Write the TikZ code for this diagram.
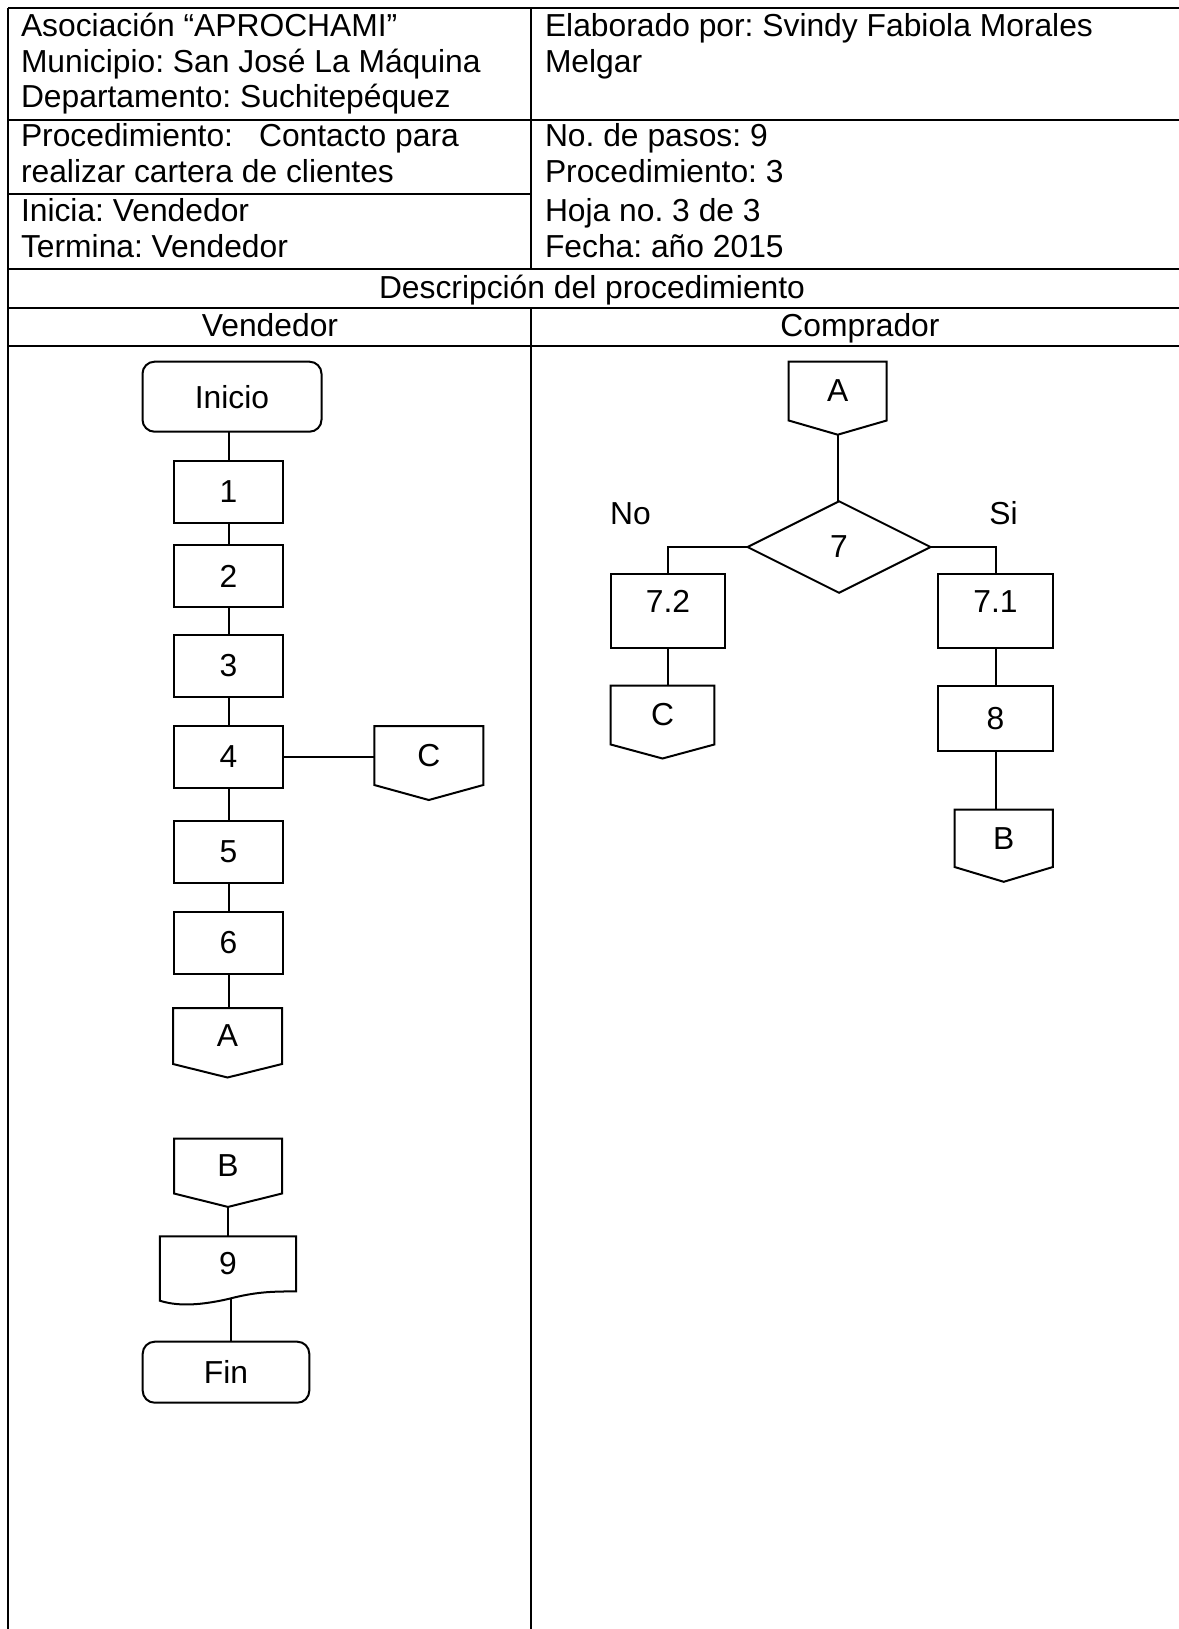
\documentclass[tikz,border=0pt]{standalone}
\usepackage{fontspec}
\setmainfont{Liberation Sans}
\usetikzlibrary{shapes.geometric,calc}
\frenchspacing

% outline of an off-page connector around a (borderless) node, with a named tip
\newcommand\offpageoutline[2]{%
  \draw[flow] (#1.north west) -- (#1.north east) -- (#1.south east)
    -- ([yshift=-#2]#1.south) -- (#1.south west) -- cycle;
  \coordinate (#1-tip) at ([yshift=-#2]#1.south);}

\begin{document}
\begin{tikzpicture}[x=1pt,y=-1pt,
  every node/.style={font=\fontsize{31.8pt}{36.5pt}\selectfont, inner sep=0pt, outer sep=0pt},
  grid/.style={line width=2.5pt},
  flow/.style={line width=2pt},
  txt/.style={anchor=base west},
  ctxt/.style={anchor=base},
  proc/.style={draw, line width=2pt, minimum width=109pt, minimum height=62pt},
  term/.style={draw, line width=2pt, rounded corners=12pt},
  conn/.style={minimum width=#1},
  decision/.style={draw, line width=2pt, shape=diamond, aspect=2,
    minimum width=183pt, minimum height=91.5pt},
  upper/.style={text height=22.5pt, text depth=20pt}
]
\useasboundingbox (0,0) rectangle (1178,1629);

% ---------- table grid ----------
\draw[grid] (8,8) -- (1185,8);
\draw[grid] (8,120) -- (1185,120);
\draw[grid] (8,194) -- (531,194);
\draw[grid] (8,269) -- (1185,269);
\draw[grid] (8,308) -- (1185,308);
\draw[grid] (8,346) -- (1185,346);
\draw[grid] (8,8) -- (8,1640);
\draw[grid] (531,8) -- (531,269);
\draw[grid] (531,308) -- (531,1640);

% ---------- header texts ----------
\node[txt] (h1) at (21,37) {Asociación “APROCHAMI”};
\node[txt] (h2) at (21,73) {Municipio: San José La Máquina};
\node[txt] (h3) at (21,108) {Departamento: Suchitepéquez};
\node[txt] (h4) at (21,146.7) {Procedimiento:\hspace{26pt}Contacto para};
\node[txt] (h5) at (21,183) {realizar cartera de clientes};
\node[txt] (h6) at (21,221.7) {Inicia: Vendedor};
\node[txt] (h7) at (21,258) {Termina: Vendedor};

\node[txt] (r1) at (545,37) {Elaborado por: Svindy Fabiola Morales};
\node[txt] (r2) at (545,73) {Melgar};
\node[txt] (r3) at (545,146.7) {No. de pasos: 9};
\node[txt] (r4) at (545,183) {Procedimiento: 3};
\node[txt] (r5) at (545,221.7) {Hoja no. 3 de 3};
\node[txt] (r6) at (545,258) {Fecha: año 2015};

\node[ctxt] (desc) at (592,298) {Descripción del procedimiento};
\node[ctxt] (lane1) at (270,336.7) {Vendedor};
\node[ctxt] (lane2) at (860,336.7) {Comprador};

% ---------- Vendedor lane ----------
\node[term, minimum width=179pt, minimum height=70pt] (ini) at (232,396.7) {Inicio};
\node[proc] (p1) at (228.5,492) {1};
\node[proc] (p2) at (228.5,576) {2};
\node[proc] (p3) at (228.5,666) {3};
\node[proc] (p4) at (228.5,756.5) {4};
\node[proc] (p5) at (228.5,852) {5};
\node[proc] (p6) at (228.5,943) {6};

\node[conn=109pt, minimum height=59pt] (C1) at (428.8,755.5) {C};
\offpageoutline{C1}{15pt}
\node[conn=109pt, minimum height=56pt] (A1) at (227.5,1036) {A};
\offpageoutline{A1}{13.5pt}
\node[conn=108pt, minimum height=55pt] (B1) at (228,1166) {B};
\offpageoutline{B1}{13.4pt}

\node[minimum width=136.3pt, minimum height=55pt] (d9) at (228,1263.9) {9};
\draw[flow] (d9.north west) -- (d9.north east) -- (d9.south east)
  .. controls ($(d9.south west)+(110.3,0)$) and ($(d9.south west)+(95.3,0.6)$) .. ($(d9.south west)+(68.3,7.6)$)
  .. controls ($(d9.south west)+(35.3,15.1)$) and ($(d9.south west)+(15.3,14.1)$) .. ($(d9.south west)+(0,9.3)$)
  -- cycle;
\coordinate (d9-wave) at ($(d9.south)+(2.5,7)$);

\node[term, minimum width=166.6pt, minimum height=61pt] (fin) at (226,1372.2) {Fin};

\draw[flow] (p1.north) -- (p1.north |- ini.south);
\draw[flow] (p1.south) -- (p2.north);
\draw[flow] (p2.south) -- (p3.north);
\draw[flow] (p3.south) -- (p4.north);
\draw[flow] (p4.south) -- (p5.north);
\draw[flow] (p5.south) -- (p6.north);
\draw[flow] (p4.east) -- (p4.east -| C1.west);
\draw[flow] (p6.south) -- (p6.south |- A1.north);
\draw[flow] (B1-tip) -- (B1-tip |- d9.north);
\draw[flow] (d9-wave) -- (d9-wave |- fin.north);

% ---------- Comprador lane ----------
\node[conn=98pt, minimum height=59pt] (A2) at (837.7,391) {A};
\offpageoutline{A2}{14.2pt}
\node[decision] (d7) at (839,547) {7};
\node[ctxt] (no) at (630.5,524) {No};
\node[ctxt] (si) at (1003.5,524) {Si};

\node[draw, line width=2pt, minimum width=114.3pt, minimum height=74pt, upper] (b72) at (668,611) {7.2};
\node[draw, line width=2pt, minimum width=114.7pt, minimum height=74pt, upper] (b71) at (995.5,611) {7.1};
\node[draw, line width=2pt, minimum width=115pt, minimum height=65.7pt] (b8) at (995.5,718.5) {8};

\node[conn=103.6pt, minimum height=59pt] (C2) at (662.5,715) {C};
\offpageoutline{C2}{14pt}
\node[conn=98.3pt, minimum height=57.4pt] (B2) at (1003.7,838.3) {B};
\offpageoutline{B2}{14.8pt}

\draw[flow] (A2-tip) -- (A2-tip |- d7.north);
\draw[flow] (d7.west) -| (b72.north);
\draw[flow] (d7.east) -| (b71.north);
\draw[flow] (b72.south) -- (b72.south |- C2.north);
\draw[flow] (b71.south) -- (b8.north);
\draw[flow] (b8.south) -- (b8.south |- B2.north);
\end{tikzpicture}
\end{document}
